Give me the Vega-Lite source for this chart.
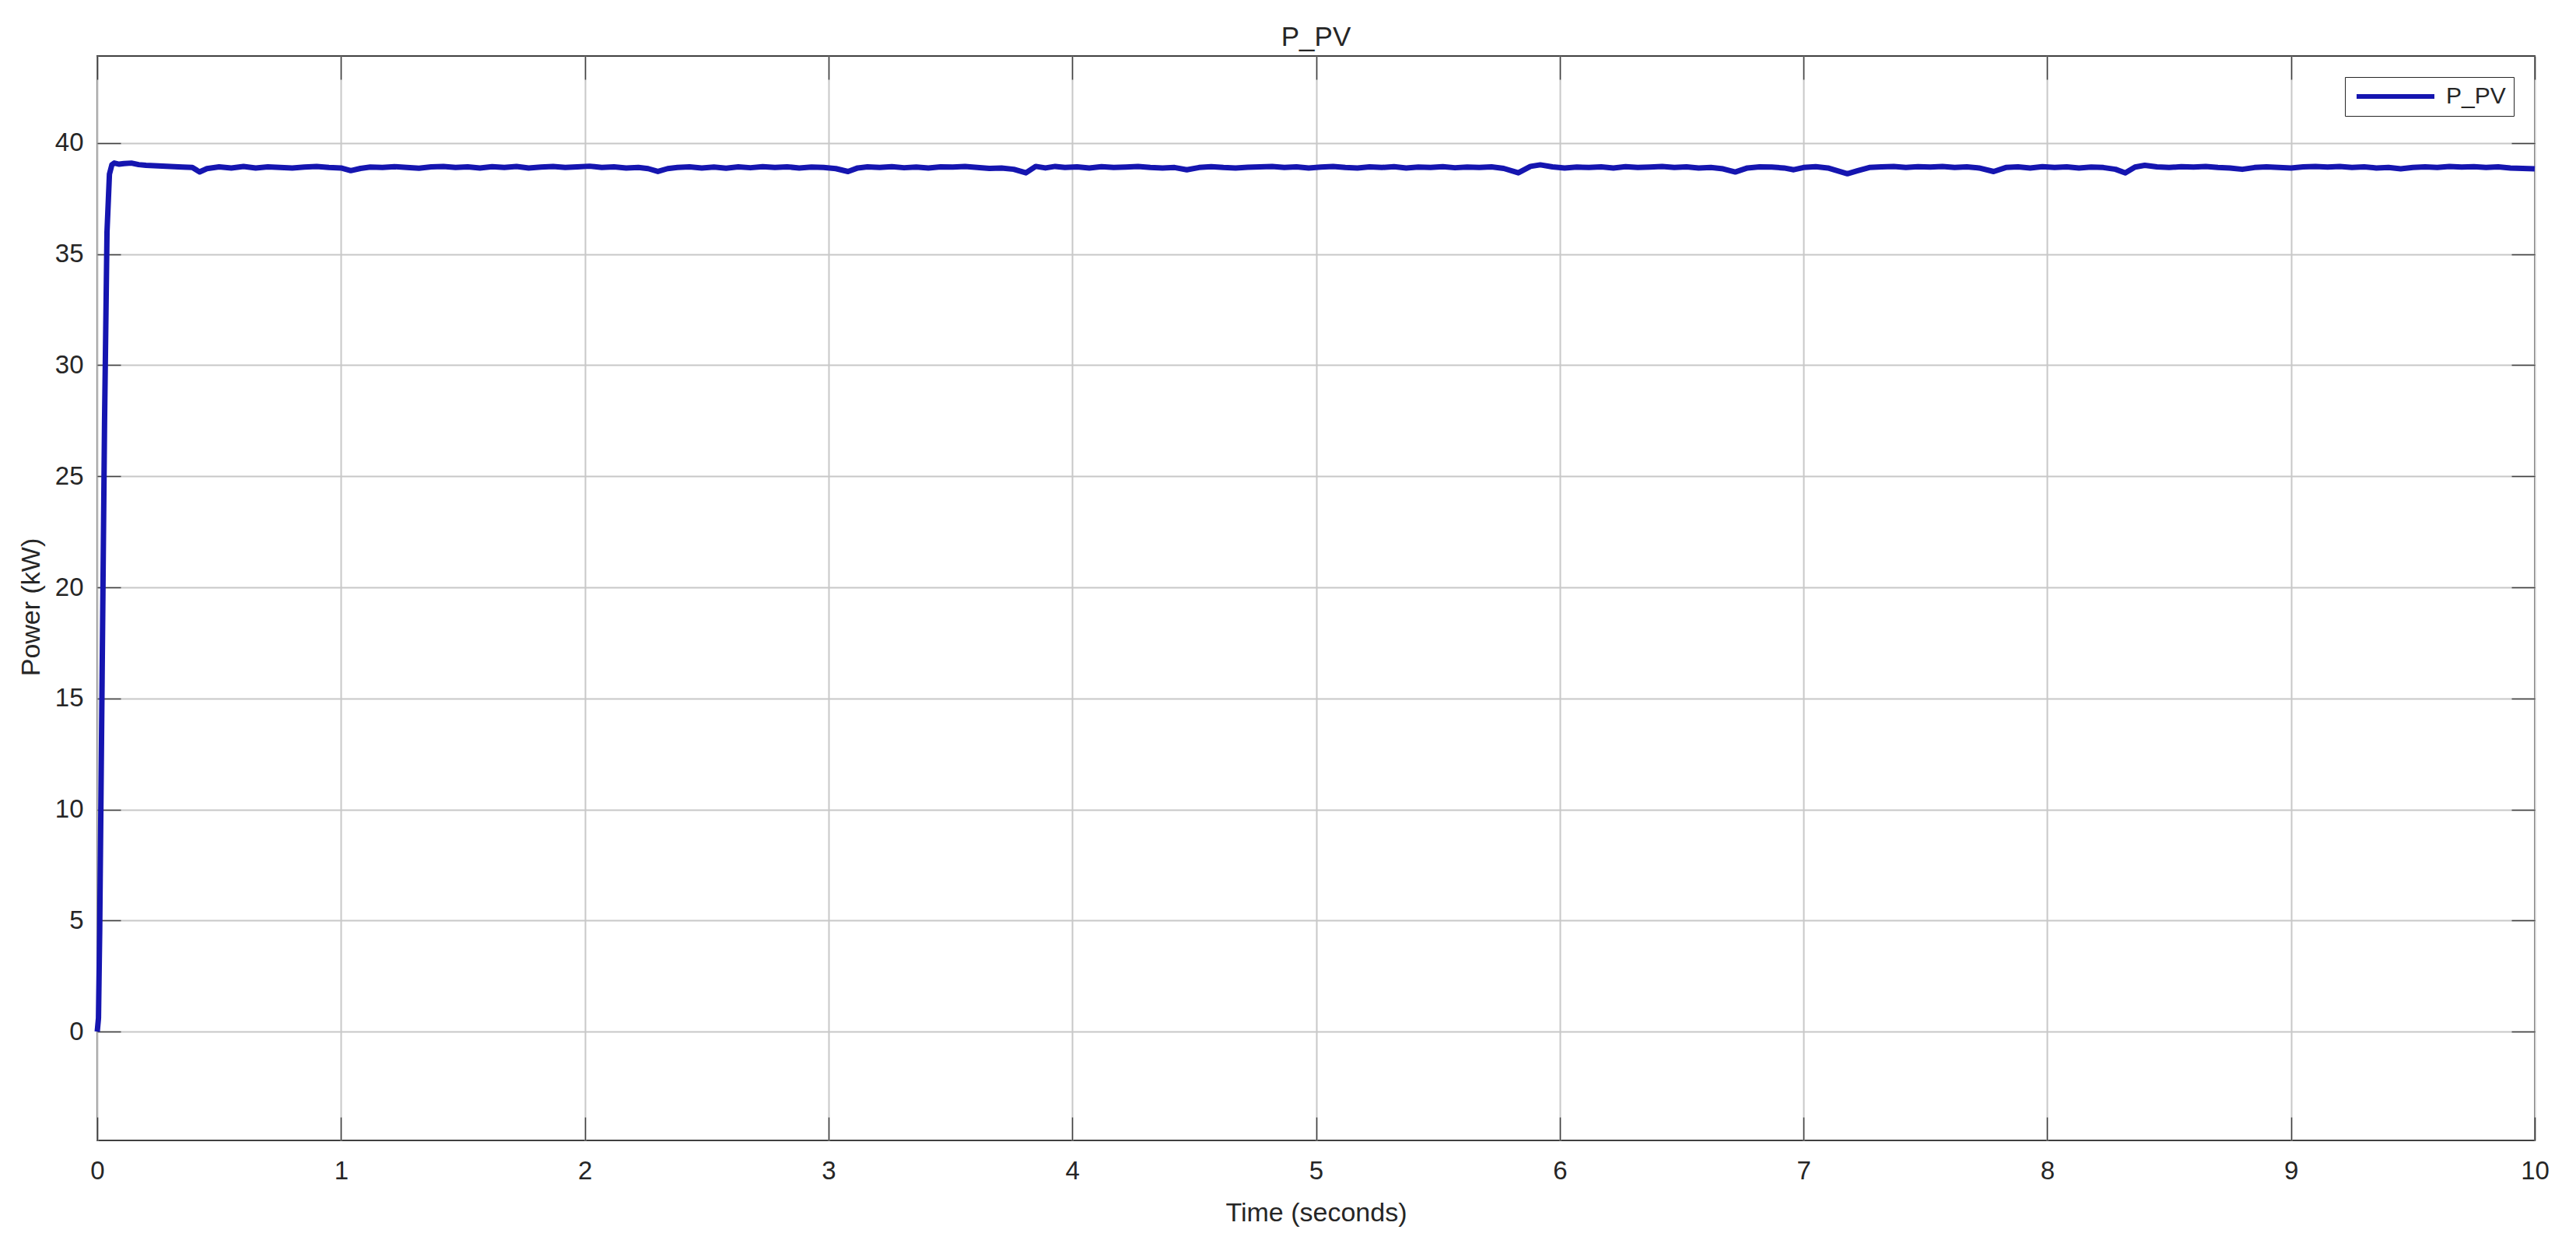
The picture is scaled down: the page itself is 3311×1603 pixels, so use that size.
{
  "$schema": "https://vega.github.io/schema/vega-lite/v6.json",
  "width": 3133,
  "height": 1394,
  "autosize": {"type": "none"},
  "padding": {"left": 125, "top": 72, "right": 53, "bottom": 137},
  "background": "white",
  "config": {"view": {"stroke": "#404040", "strokeWidth": 2}, "font": "Liberation Sans"},
  "title": {"text": "P_PV", "fontSize": 35, "fontWeight": "normal", "color": "#262626", "anchor": "middle", "baseline": "alphabetic", "offset": 14, "dy": 37, "font": "Liberation Sans", "frame": "group"},
  "data": {"values": [
    {"t": 0, "p": 0}, {"t": 0.005, "p": 0.6}, {"t": 0.01, "p": 4.5}, {"t": 0.02, "p": 16}, {"t": 0.03, "p": 27.5}, {"t": 0.04, "p": 36}, {"t": 0.05, "p": 38.6}, {"t": 0.06, "p": 39.02}, {"t": 0.07, "p": 39.1}, {"t": 0.09, "p": 39.05},
    {"t": 0.11, "p": 39.08}, {"t": 0.14, "p": 39.1}, {"t": 0.17, "p": 39.03}, {"t": 0.2, "p": 39.0}, {"t": 0.25, "p": 38.97}, {"t": 0.3, "p": 38.95}, {"t": 0.35, "p": 38.92}, {"t": 0.39, "p": 38.9}, {"t": 0.42, "p": 38.7}, {"t": 0.45, "p": 38.85},
    {"t": 0.5, "p": 38.93}, {"t": 0.55, "p": 38.88}, {"t": 0.6, "p": 38.95}, {"t": 0.65, "p": 38.88}, {"t": 0.7, "p": 38.93}, {"t": 0.75, "p": 38.9}, {"t": 0.8, "p": 38.88}, {"t": 0.85, "p": 38.92}, {"t": 0.9, "p": 38.95}, {"t": 0.95, "p": 38.9},
    {"t": 1.0, "p": 38.88}, {"t": 1.04, "p": 38.76}, {"t": 1.08, "p": 38.86}, {"t": 1.12, "p": 38.92}, {"t": 1.17, "p": 38.9}, {"t": 1.22, "p": 38.94}, {"t": 1.27, "p": 38.9}, {"t": 1.32, "p": 38.87}, {"t": 1.37, "p": 38.93}, {"t": 1.42, "p": 38.95},
    {"t": 1.47, "p": 38.9}, {"t": 1.52, "p": 38.93}, {"t": 1.57, "p": 38.88}, {"t": 1.62, "p": 38.94}, {"t": 1.67, "p": 38.9}, {"t": 1.72, "p": 38.95}, {"t": 1.77, "p": 38.88}, {"t": 1.82, "p": 38.92}, {"t": 1.87, "p": 38.95}, {"t": 1.92, "p": 38.9},
    {"t": 1.97, "p": 38.93}, {"t": 2.02, "p": 38.96}, {"t": 2.07, "p": 38.9}, {"t": 2.12, "p": 38.93}, {"t": 2.17, "p": 38.88}, {"t": 2.22, "p": 38.9}, {"t": 2.26, "p": 38.85}, {"t": 2.3, "p": 38.72}, {"t": 2.34, "p": 38.85}, {"t": 2.38, "p": 38.9},
    {"t": 2.43, "p": 38.93}, {"t": 2.48, "p": 38.88}, {"t": 2.53, "p": 38.92}, {"t": 2.58, "p": 38.87}, {"t": 2.63, "p": 38.93}, {"t": 2.68, "p": 38.89}, {"t": 2.73, "p": 38.94}, {"t": 2.78, "p": 38.9}, {"t": 2.83, "p": 38.93}, {"t": 2.88, "p": 38.88},
    {"t": 2.93, "p": 38.92}, {"t": 2.98, "p": 38.9}, {"t": 3.03, "p": 38.85}, {"t": 3.08, "p": 38.72}, {"t": 3.12, "p": 38.88}, {"t": 3.16, "p": 38.93}, {"t": 3.21, "p": 38.9}, {"t": 3.26, "p": 38.94}, {"t": 3.31, "p": 38.89}, {"t": 3.36, "p": 38.92},
    {"t": 3.41, "p": 38.88}, {"t": 3.46, "p": 38.93}, {"t": 3.51, "p": 38.92}, {"t": 3.56, "p": 38.95}, {"t": 3.61, "p": 38.9}, {"t": 3.66, "p": 38.86}, {"t": 3.71, "p": 38.88}, {"t": 3.76, "p": 38.82}, {"t": 3.81, "p": 38.66}, {"t": 3.85, "p": 38.95},
    {"t": 3.89, "p": 38.88}, {"t": 3.93, "p": 38.95}, {"t": 3.97, "p": 38.9}, {"t": 4.02, "p": 38.93}, {"t": 4.07, "p": 38.88}, {"t": 4.12, "p": 38.94}, {"t": 4.17, "p": 38.9}, {"t": 4.22, "p": 38.92}, {"t": 4.27, "p": 38.95}, {"t": 4.32, "p": 38.9},
    {"t": 4.37, "p": 38.88}, {"t": 4.42, "p": 38.9}, {"t": 4.47, "p": 38.8}, {"t": 4.52, "p": 38.9}, {"t": 4.57, "p": 38.94}, {"t": 4.62, "p": 38.9}, {"t": 4.67, "p": 38.88}, {"t": 4.72, "p": 38.91}, {"t": 4.77, "p": 38.93}, {"t": 4.82, "p": 38.95},
    {"t": 4.87, "p": 38.9}, {"t": 4.92, "p": 38.93}, {"t": 4.97, "p": 38.88}, {"t": 5.02, "p": 38.92}, {"t": 5.07, "p": 38.95}, {"t": 5.12, "p": 38.9}, {"t": 5.17, "p": 38.88}, {"t": 5.22, "p": 38.93}, {"t": 5.27, "p": 38.9}, {"t": 5.32, "p": 38.94},
    {"t": 5.37, "p": 38.88}, {"t": 5.42, "p": 38.92}, {"t": 5.47, "p": 38.9}, {"t": 5.52, "p": 38.94}, {"t": 5.57, "p": 38.89}, {"t": 5.62, "p": 38.92}, {"t": 5.67, "p": 38.9}, {"t": 5.72, "p": 38.93}, {"t": 5.77, "p": 38.86}, {"t": 5.83, "p": 38.66},
    {"t": 5.88, "p": 38.95}, {"t": 5.92, "p": 39.02}, {"t": 5.97, "p": 38.93}, {"t": 6.02, "p": 38.88}, {"t": 6.07, "p": 38.92}, {"t": 6.12, "p": 38.9}, {"t": 6.17, "p": 38.93}, {"t": 6.22, "p": 38.88}, {"t": 6.27, "p": 38.94}, {"t": 6.32, "p": 38.9},
    {"t": 6.37, "p": 38.92}, {"t": 6.42, "p": 38.95}, {"t": 6.47, "p": 38.9}, {"t": 6.52, "p": 38.93}, {"t": 6.57, "p": 38.88}, {"t": 6.62, "p": 38.9}, {"t": 6.67, "p": 38.84}, {"t": 6.72, "p": 38.7}, {"t": 6.77, "p": 38.88}, {"t": 6.82, "p": 38.93},
    {"t": 6.87, "p": 38.92}, {"t": 6.92, "p": 38.88}, {"t": 6.96, "p": 38.8}, {"t": 7.0, "p": 38.9}, {"t": 7.05, "p": 38.94}, {"t": 7.1, "p": 38.88}, {"t": 7.14, "p": 38.75}, {"t": 7.18, "p": 38.62}, {"t": 7.22, "p": 38.75}, {"t": 7.27, "p": 38.9},
    {"t": 7.32, "p": 38.93}, {"t": 7.37, "p": 38.95}, {"t": 7.42, "p": 38.9}, {"t": 7.47, "p": 38.94}, {"t": 7.52, "p": 38.92}, {"t": 7.57, "p": 38.95}, {"t": 7.62, "p": 38.9}, {"t": 7.67, "p": 38.93}, {"t": 7.72, "p": 38.88}, {"t": 7.78, "p": 38.72},
    {"t": 7.83, "p": 38.9}, {"t": 7.88, "p": 38.93}, {"t": 7.93, "p": 38.88}, {"t": 7.98, "p": 38.94}, {"t": 8.03, "p": 38.9}, {"t": 8.08, "p": 38.93}, {"t": 8.13, "p": 38.88}, {"t": 8.18, "p": 38.92}, {"t": 8.23, "p": 38.9}, {"t": 8.28, "p": 38.82},
    {"t": 8.32, "p": 38.66}, {"t": 8.36, "p": 38.92}, {"t": 8.4, "p": 39.0}, {"t": 8.45, "p": 38.93}, {"t": 8.5, "p": 38.9}, {"t": 8.55, "p": 38.94}, {"t": 8.6, "p": 38.92}, {"t": 8.65, "p": 38.95}, {"t": 8.7, "p": 38.9}, {"t": 8.75, "p": 38.88},
    {"t": 8.8, "p": 38.82}, {"t": 8.85, "p": 38.9}, {"t": 8.9, "p": 38.93}, {"t": 8.95, "p": 38.9}, {"t": 9.0, "p": 38.88}, {"t": 9.05, "p": 38.93}, {"t": 9.1, "p": 38.95}, {"t": 9.15, "p": 38.92}, {"t": 9.2, "p": 38.95}, {"t": 9.25, "p": 38.9},
    {"t": 9.3, "p": 38.93}, {"t": 9.35, "p": 38.88}, {"t": 9.4, "p": 38.9}, {"t": 9.45, "p": 38.84}, {"t": 9.5, "p": 38.9}, {"t": 9.55, "p": 38.93}, {"t": 9.6, "p": 38.9}, {"t": 9.65, "p": 38.95}, {"t": 9.7, "p": 38.92}, {"t": 9.75, "p": 38.94},
    {"t": 9.8, "p": 38.9}, {"t": 9.85, "p": 38.93}, {"t": 9.9, "p": 38.88}, {"t": 9.95, "p": 38.86}, {"t": 10.0, "p": 38.84}
  ]},
  "layer": [
    {
      "mark": {"type": "line", "strokeWidth": 7, "strokeJoin": "round"},
      "encoding": {
        "x": {"field": "t", "type": "quantitative",
          "scale": {"domain": [0, 10], "nice": false, "zero": false},
          "axis": {"title": "Time (seconds)", "values": [0,1,2,3,4,5,6,7,8,9,10], "format": "d",
            "grid": true, "gridColor": "#c8c8c8", "gridWidth": 2, "domain": false,
            "ticks": true, "tickSize": -30, "tickColor": "#404040", "tickWidth": 1.5,
            "labelPadding": 53, "labelFontSize": 33, "labelColor": "#262626", "labelFont": "Liberation Sans",
            "labelFlush": false, "labelOverlap": false,
            "titleFontSize": 34, "titleFontWeight": "normal", "titleColor": "#262626", "titleFont": "Liberation Sans",
            "titleBaseline": "alphabetic", "titleY": 103, "titleX": 1566.5}},
        "y": {"field": "p", "type": "quantitative",
          "scale": {"domain": [-4.9, 43.92], "nice": false, "zero": false},
          "axis": {"title": "Power (kW)", "values": [0,5,10,15,20,25,30,35,40], "format": "d",
            "grid": true, "gridColor": "#c8c8c8", "gridWidth": 2, "domain": false,
            "ticks": true, "tickSize": -30, "tickColor": "#404040", "tickWidth": 1.5,
            "labelPadding": 48, "labelFontSize": 33, "labelColor": "#262626", "labelFont": "Liberation Sans",
            "labelFlush": false, "labelOverlap": false,
            "titleFontSize": 34, "titleFontWeight": "normal", "titleColor": "#262626", "titleFont": "Liberation Sans",
            "titleAngle": -90, "titleBaseline": "alphabetic", "titleX": -75, "titleY": 708, "titleAlign": "center"}},
        "color": {"datum": "P_PV", "type": "nominal",
          "scale": {"range": ["#1515b0"]},
          "legend": {"title": null, "orient": "top-right", "offset": 27, "padding": 10,
            "strokeColor": "#262626", "fillColor": "white", "cornerRadius": 0,
            "symbolType": "M-1,0H9", "symbolSize": 400, "symbolStrokeWidth": 6,
            "labelFontSize": 30, "labelFont": "Liberation Sans", "labelColor": "#262626", "labelOffset": 90}}
      }
    },
    {
      "mark": {"type": "line", "opacity": 0},
      "encoding": {
        "x": {"field": "t", "type": "quantitative",
          "scale": {"domain": [0, 10], "nice": false, "zero": false},
          "axis": {"orient": "top", "title": null, "labels": false, "values": [0,1,2,3,4,5,6,7,8,9,10],
            "grid": false, "domain": false, "ticks": true, "tickSize": -30, "tickColor": "#404040", "tickWidth": 1.5}},
        "y": {"field": "p", "type": "quantitative",
          "scale": {"domain": [-4.9, 43.92], "nice": false, "zero": false},
          "axis": {"orient": "right", "title": null, "labels": false, "values": [0,5,10,15,20,25,30,35,40],
            "grid": false, "domain": false, "ticks": true, "tickSize": -30, "tickColor": "#404040", "tickWidth": 1.5}}
      }
    }
  ],
  "resolve": {"axis": {"x": "independent", "y": "independent"}}
}
